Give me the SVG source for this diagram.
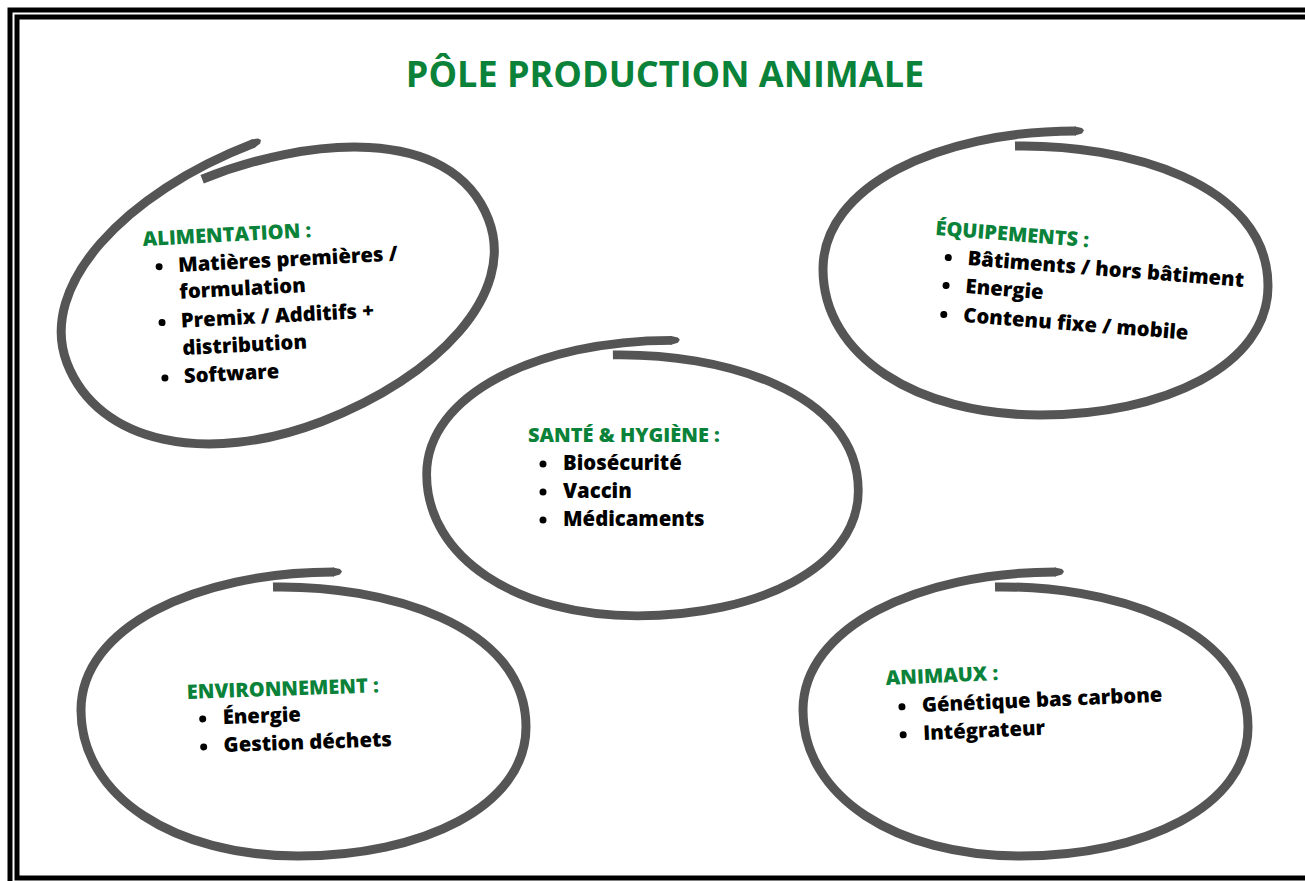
<svg xmlns="http://www.w3.org/2000/svg" width="1305" height="881" viewBox="0 0 1305 881">
<style>
.frame{fill:none;stroke:#000;stroke-width:5}
.ring{fill:none;stroke:#555555;stroke-width:9;stroke-linecap:butt;stroke-linejoin:round}
.tip{fill:#555555}
.title{font-family:"Open Sans","Liberation Sans",sans-serif;font-weight:700;font-size:36px;fill:#0a8239}
.head{font-family:"Open Sans","Liberation Sans",sans-serif;font-weight:800;font-size:20px;fill:#0a8239}
.item{font-family:"Open Sans","Liberation Sans",sans-serif;font-weight:800;font-size:20.3px;fill:#000}
.dot{fill:#000}
</style>
<defs>
<g id="ringShape">
<path class="ring" d="M -30,-128 C 79,-130 223,-92 223,12 C 223,92 118,141 -5,141 C -128,141 -222,82 -222,-5 C -222,-87 -108,-143 31,-143"/>
<polygon class="tip" points="30,-147.5 37,-146 39,-143.5 37,-140.5 30,-138.5"/>
</g>
</defs>
<rect width="1305" height="881" fill="#fff"/>
<g id="frame">
<rect class="frame" x="10" y="10" width="1330" height="900"/>
<rect class="frame" x="17" y="17" width="1320" height="861"/>
</g>
<g id="title">
<text class="title" x="665" y="87" text-anchor="middle">PÔLE PRODUCTION ANIMALE</text>
</g>
<g id="connectors"></g>
<g id="alimentation">
<use href="#ringShape" transform="translate(276,288) rotate(-21)"/>
<g transform="translate(143,246) rotate(-3)">
<text class="head" x="0" y="0">ALIMENTATION :</text>
<circle class="dot" cx="15" cy="21.5" r="3.5"/>
<text class="item" x="34" y="27.8">Matières premières /</text>
<text class="item" x="34" y="54.5">formulation</text>
<circle class="dot" cx="15" cy="77.5" r="3.5"/>
<text class="item" x="34" y="83.5">Premix / Additifs +</text>
<text class="item" x="34" y="111">distribution</text>
<circle class="dot" cx="15" cy="133" r="3.5"/>
<text class="item" x="34" y="139">Software</text>
</g>
</g>
<g id="equipements">
<use href="#ringShape" transform="translate(1045,274)"/>
<g transform="translate(935,235) rotate(4.5)">
<text class="head" x="0" y="0">ÉQUIPEMENTS :</text>
<circle class="dot" cx="15" cy="21.5" r="3.5"/>
<text class="item" x="34.5" y="27.5">Bâtiments / hors bâtiment</text>
<circle class="dot" cx="15" cy="49.5" r="3.5"/>
<text class="item" x="34.5" y="55.5">Energie</text>
<circle class="dot" cx="15" cy="78.5" r="3.5"/>
<text class="item" x="34.5" y="84.5">Contenu fixe / mobile</text>
</g>
</g>
<g id="sante">
<use href="#ringShape" transform="translate(642,479) scale(0.97)"/>
<g transform="translate(528,442)">
<text class="head" x="0" y="0">SANTÉ &amp; HYGIÈNE :</text>
<circle class="dot" cx="15" cy="22" r="3.5"/>
<text class="item" x="35" y="28">Biosécurité</text>
<circle class="dot" cx="15" cy="50" r="3.5"/>
<text class="item" x="35" y="56">Vaccin</text>
<circle class="dot" cx="15" cy="78" r="3.5"/>
<text class="item" x="35" y="84">Médicaments</text>
</g>
</g>
<g id="environnement">
<use href="#ringShape" transform="translate(303,715)"/>
<g transform="translate(187,699) rotate(-2)">
<text class="head" x="0" y="0">ENVIRONNEMENT :</text>
<circle class="dot" cx="15" cy="20.5" r="3.5"/>
<text class="item" x="35" y="26.3">Énergie</text>
<circle class="dot" cx="15" cy="48.5" r="3.5"/>
<text class="item" x="35" y="54.3">Gestion déchets</text>
</g>
</g>
<g id="animaux">
<use href="#ringShape" transform="translate(1025,715)"/>
<g transform="translate(886,685) rotate(-2.5)">
<text class="head" x="0" y="0">ANIMAUX :</text>
<circle class="dot" cx="15" cy="22.5" r="3.5"/>
<text class="item" x="35" y="28.6">Génétique bas carbone</text>
<circle class="dot" cx="15" cy="50.5" r="3.5"/>
<text class="item" x="35" y="56.6">Intégrateur</text>
</g>
</g>
</svg>
